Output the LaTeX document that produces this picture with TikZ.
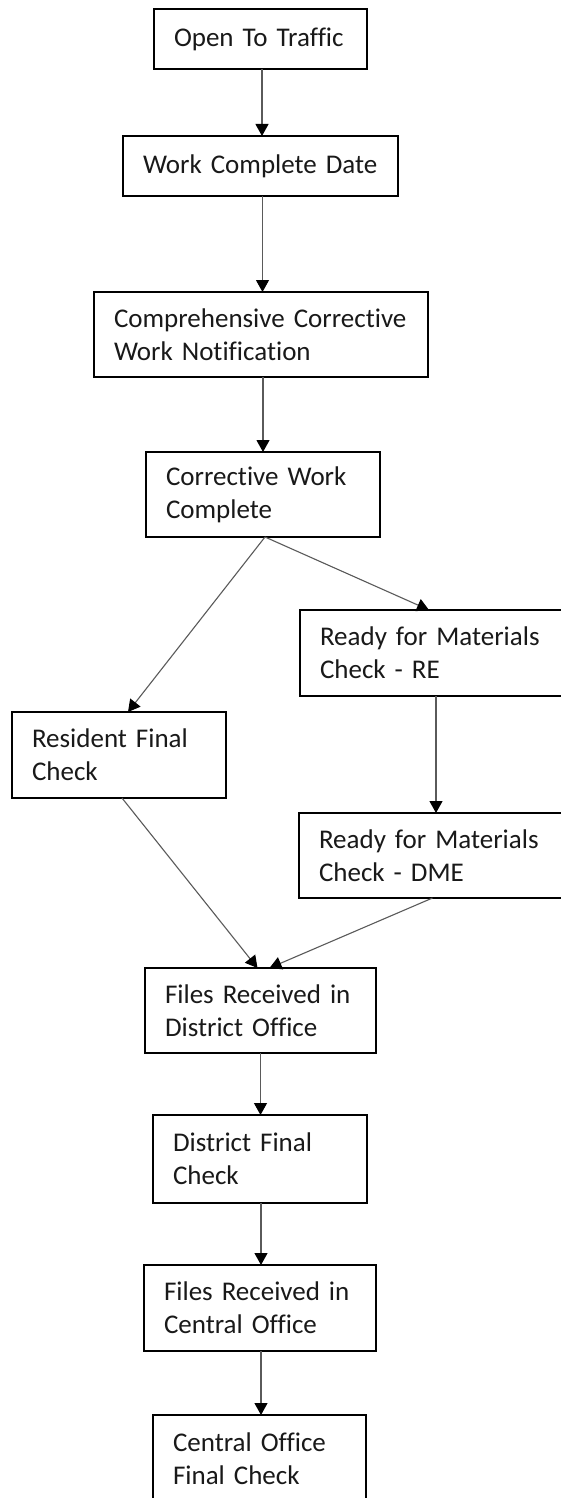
\documentclass[tikz,border=0pt]{standalone}
\usepackage{fontspec}
\setmainfont{Carlito}[Ligatures=CommonOff]
\usetikzlibrary{arrows.meta}
\definecolor{linegray}{RGB}{90,90,90}
\definecolor{txt}{RGB}{25,25,25}
\tikzset{
  box/.style={draw=black, line width=1.6pt, rectangle, anchor=north west,
    inner xsep=20pt, inner ysep=0pt, outer sep=0pt, align=left,
    text=txt, font=\fontsize{27}{33}\selectfont},
  arr/.style={draw=linegray, line width=1.1pt,
    -{Triangle[width=13pt,length=12pt,color=black]}}
}
\begin{document}
\begin{tikzpicture}[x=1pt,y=-1pt]
\useasboundingbox (0,0) rectangle (561,1498);
\clip (0,0) rectangle (561,1498);
\fill[white] (0,0) rectangle (561,1498);

\node[box, text width=173pt, minimum width=213pt, minimum height=60pt] (b1) at (154,9) {Open To Traffic};
\node[box, text width=235pt, minimum width=275pt, minimum height=60pt] (b2) at (123,136) {Work Complete Date};
\node[box, text width=294pt, minimum width=334pt, minimum height=85pt] (b3) at (94,292) {Comprehensive Corrective\\Work Notification};
\node[box, text width=194pt, minimum width=234pt, minimum height=85pt] (b4) at (146,452) {Corrective Work\\Complete};
\node[box, text width=222pt, minimum width=262pt, minimum height=86pt] (re) at (300,610) {Ready for Materials\\Check - RE};
\node[box, text width=174pt, minimum width=214pt, minimum height=86pt] (res) at (12,712) {Resident Final\\Check};
\node[box, text width=223pt, minimum width=263pt, minimum height=85pt] (dme) at (299,813) {Ready for Materials\\Check - DME};
\node[box, text width=191pt, minimum width=231pt, minimum height=85pt] (fd) at (145,968) {Files Received in\\District Office};
\node[box, text width=174pt, minimum width=214pt, minimum height=88pt] (df) at (153,1115) {District Final\\Check};
\node[box, text width=192pt, minimum width=232pt, minimum height=86pt] (fc) at (144,1265) {Files Received in\\Central Office};
\node[box, text width=173pt, minimum width=213pt, minimum height=88pt] (cf) at (153,1415) {Central Office\\Final Check};

\draw[arr] ([xshift=1.5pt]b1.south) -- ([xshift=1.5pt]b1.south |- b2.north);
\draw[arr] ([xshift=2pt]b2.south) -- ([xshift=2pt]b2.south |- b3.north);
\draw[arr] (b4.north |- b3.south) -- (b4.north);
\draw[arr] ([xshift=2pt]b4.south) -- ([xshift=9pt]res.north);
\draw[arr] ([xshift=2pt]b4.south) -- ([xshift=-2pt]re.north);
\draw[arr] ([xshift=5pt]re.south) -- ([xshift=5pt]re.south |- dme.north);
\draw[arr] ([xshift=3pt]res.south) -- ([xshift=-3pt]fd.north);
\draw[arr] ([xshift=2pt]dme.south) -- ([xshift=9pt]fd.north);
\draw[arr] (fd.south) -- (fd.south |- df.north);
\draw[arr] ([xshift=1pt]df.south) -- ([xshift=1pt]df.south |- fc.north);
\draw[arr] ([xshift=1pt]fc.south) -- ([xshift=1pt]fc.south |- cf.north);
\end{tikzpicture}
\end{document}
